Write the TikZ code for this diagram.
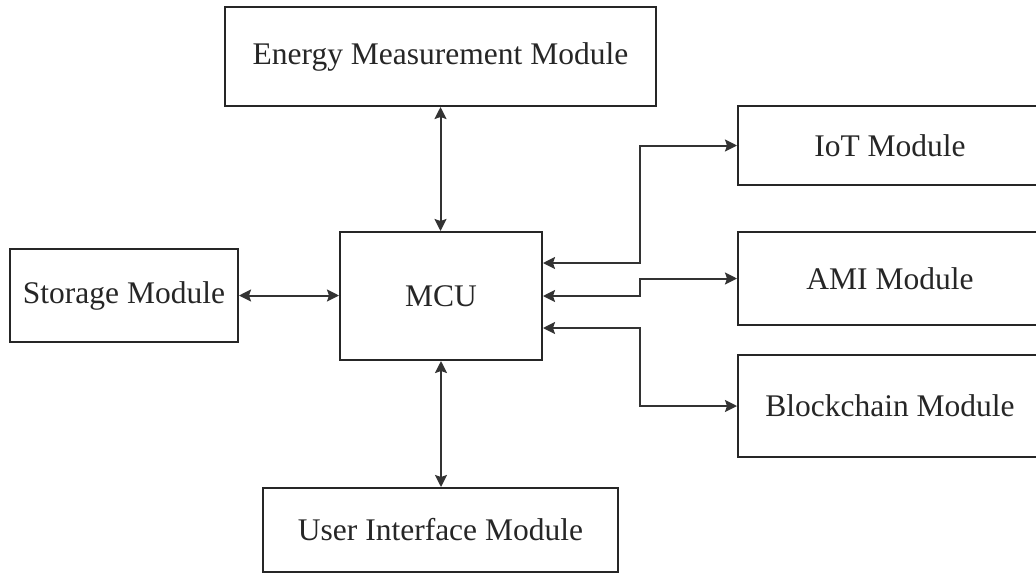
\documentclass[tikz,border=0pt]{standalone}
\usepackage{fontspec}
\setmainfont{Liberation Serif}
\usetikzlibrary{arrows.meta,calc}
\begin{document}
\begin{tikzpicture}[x=1pt,y=-1pt,
  box/.style={draw=black!85,line width=2pt,rectangle,inner sep=0pt,
    font=\fontsize{31.5}{38}\selectfont,text=black!85},
  link/.style={draw=black!80,line width=2pt,
    {Stealth[length=12pt,width=12pt,inset=2pt]}-{Stealth[length=12pt,width=12pt,inset=2pt]}}]
\useasboundingbox (0,0) rectangle (1036,574);
% module boxes
\node[box,minimum width=431pt,minimum height=99pt]  (energy)  at (440.5,56.5) {Energy Measurement Module};
\node[box,minimum width=228pt,minimum height=93pt]  (storage) at (124,295.5) {Storage Module};
\node[box,minimum width=202pt,minimum height=128pt] (mcu)     at (441,296) {MCU};
\node[box,minimum width=355pt,minimum height=84pt]  (ui)      at (440.5,530) {User Interface Module};
\node[box,minimum width=304pt,minimum height=79pt]  (iot)     at (890,145.5) {IoT Module};
\node[box,minimum width=304pt,minimum height=93pt]  (ami)     at (890,278.5) {AMI Module};
\node[box,minimum width=304pt,minimum height=102pt] (chain)   at (890,406) {Blockchain Module};
% connection points on the right side of the MCU and the shared riser
\coordinate (p1) at ($(mcu.east)+(0,-33)$);
\coordinate (p2) at (mcu.east);
\coordinate (p3) at ($(mcu.east)+(0,32)$);
\coordinate (bus) at (640,0);
% connectors
\draw[link] (mcu.north -| energy.south) -- (energy.south);
\draw[link] (storage.east) -- (storage.east -| mcu.west);
\draw[link] (mcu.south) -- (mcu.south |- ui.north);
\draw[link] (p1) -- (p1 -| bus) |- (iot.west);
\draw[link] (p2) -- (p2 -| bus) |- (ami.west);
\draw[link] (p3) -- (p3 -| bus) |- (chain.west);
\end{tikzpicture}
\end{document}
